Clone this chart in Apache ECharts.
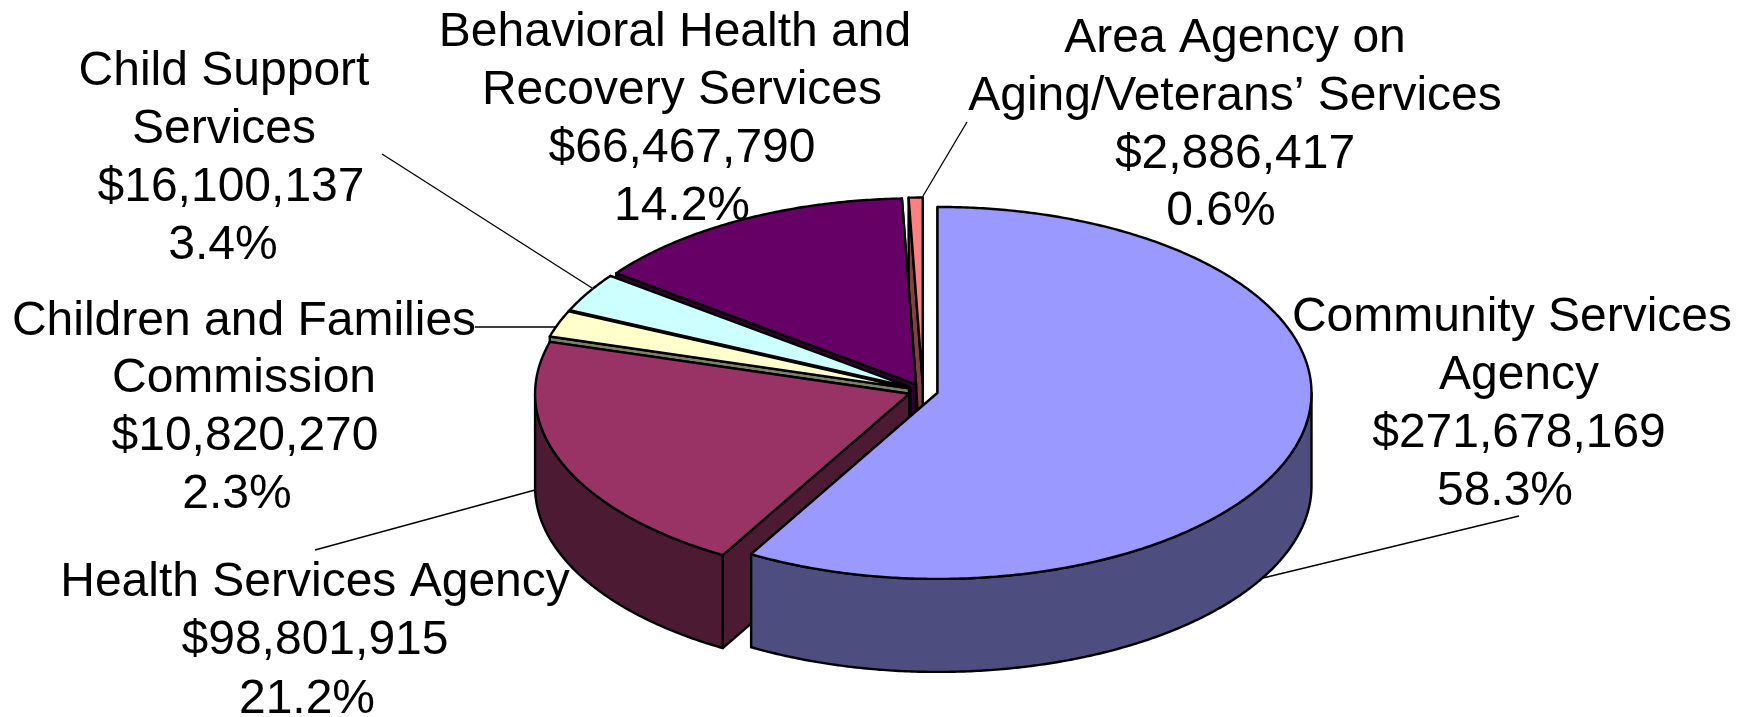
<!DOCTYPE html>
<html>
<head>
<meta charset="utf-8">
<title>Budget by agency</title>
<script src="https://cdn.jsdelivr.net/npm/echarts@6/dist/echarts.min.js"></script>
<style>
  html, body { margin: 0; padding: 0; background: #fff; }
  #chart-container { width: 1746px; height: 717px; }
</style>
</head>
<body>
<div id="chart-container"></div>
<script>
// clockwise from 12 o'clock
const names = [
  ['Community Services', 'Agency'],
  ['Health Services Agency'],
  ['Children and Families', 'Commission'],
  ['Child Support', 'Services'],
  ['Behavioral Health and', 'Recovery Services'],
  ['Area Agency on', 'Aging/Veterans\u2019 Services'],
];
const amounts = [271678169, 98801915, 10820270, 16100137, 66467790, 2886417];
const shares = [58.3, 21.2, 2.3, 3.4, 14.2, 0.6];
const topColors = ['#9999FF', '#993366', '#FFFFCC', '#CCFFFF', '#660066', '#FF8080'];
const sideColors = ['#4D4D80', '#4D1A33', '#808066', '#668080', '#330033', '#804040'];

// layout of the pie
const pie = { cx: 923, cy: 391, rx: 374, ry: 186, depth: 93, explode: 15 };

// layout of the labels: centre x and centre y of each text line
const labelX = [
  [1512, 1519, 1519, 1505],
  [315, 315, 307],
  [244, 244, 245, 237],
  [224, 224, 231, 223],
  [675, 682, 682, 682],
  [1235, 1235, 1235, 1221],
];
const labelY = [
  [318, 376, 434, 492],
  [583, 641, 700],
  [322, 379, 437, 495],
  [72, 130, 188, 246],
  [33, 91, 149, 207],
  [39, 97, 155, 212],
];
// leader lines [x1, y1, x2, y2]
const leaders = [
  [1263, 578, 1519, 516],
  [535, 490, 315, 550],
  [475, 327, 555, 327],
  [382, 154, 592, 288],
  [967, 122, 923, 196],
];

const FONT = '48px "Liberation Sans", Arial, sans-serif';
const RAD = Math.PI / 180;
const INK = '#000';

// angles in degrees, clockwise from north
let startAngles = [];
let total = 0;
shares.forEach((s) => {
  startAngles.push((total / 100) * 360);
  total += s;
});

function point(c, angle, drop) {
  return [
    c[0] + pie.rx * Math.sin(angle * RAD),
    c[1] - pie.ry * Math.cos(angle * RAD) + (drop || 0),
  ];
}

function arc(c, from, to, drop) {
  let pts = [];
  let steps = Math.max(2, Math.ceil(Math.abs(to - from) * 2));
  for (let k = 0; k <= steps; k++) {
    pts.push(point(c, from + ((to - from) * k) / steps, drop));
  }
  return pts;
}

function face(points, fill, z2) {
  return {
    type: 'polygon',
    z2,
    shape: { points },
    style: { fill, stroke: INK, lineWidth: 2.4, lineJoin: 'round' },
  };
}

function renderSlice(params, api) {
  let i = api.value(0);
  let from = startAngles[i];
  let to = from + (api.value(1) / 100) * 360;
  let mid = (from + to) / 2;
  // every slice is pulled out along its own middle angle
  let c = [
    pie.cx + pie.explode * Math.sin(mid * RAD),
    pie.cy - (pie.explode * pie.ry * Math.cos(mid * RAD)) / pie.rx,
  ];
  let z = (shares.length - i) * 10;
  let top = [c].concat(arc(c, from, to));
  let below = [c[0], c[1] + pie.depth];
  let children = [];
  // cut faces, the far one first
  [to, from].forEach((a, k) => {
    children.push(
      face([c, point(c, a), point(c, a, pie.depth), below], sideColors[i], z + k)
    );
  });
  // outer wall, only the part turned to the viewer
  let wallFrom = Math.max(from, 90);
  let wallTo = Math.min(to, 270);
  if (wallTo > wallFrom) {
    let wall = arc(c, wallFrom, wallTo).concat(
      arc(c, wallFrom, wallTo, pie.depth).reverse()
    );
    children.push(face(wall, sideColors[i], z + 2));
  }
  children.push(face(top, topColors[i], z + 3));
  return { type: 'group', children };
}

function renderLabel(params, api) {
  let i = api.value(0);
  let lines = names[i].concat([
    '$' + amounts[i].toLocaleString('en-US'),
    shares[i].toFixed(1) + '%',
  ]);
  return {
    type: 'group',
    children: lines.map((text, k) => ({
      type: 'text',
      style: {
        text,
        x: labelX[i][k],
        y: labelY[i][k],
        font: FONT,
        fill: INK,
        align: 'center',
        verticalAlign: 'middle',
      },
    })),
  };
}

function renderLeader(params, api) {
  return {
    type: 'line',
    shape: {
      x1: api.value(0),
      y1: api.value(1),
      x2: api.value(2),
      y2: api.value(3),
    },
    style: { stroke: INK, lineWidth: 1.3 },
  };
}

let option = {
  backgroundColor: '#fff',
  animation: false,
  series: [
    {
      type: 'custom',
      coordinateSystem: 'none',
      z: 1,
      silent: true,
      renderItem: renderLabel,
      data: names.map((n, i) => [i]),
    },
    {
      type: 'custom',
      coordinateSystem: 'none',
      z: 1,
      silent: true,
      renderItem: renderLeader,
      data: leaders,
    },
    {
      type: 'custom',
      coordinateSystem: 'none',
      z: 2,
      silent: true,
      renderItem: renderSlice,
      data: shares.map((s, i) => [i, s]),
    },
  ],
};

var myChart = echarts.init(document.getElementById('chart-container'));
myChart.setOption(option);
window.addEventListener('resize', myChart.resize);
</script>
</body>
</html>
